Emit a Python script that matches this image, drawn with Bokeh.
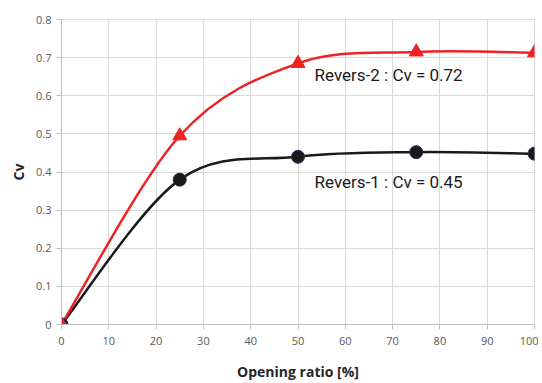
from bokeh.plotting import figure
from bokeh.embed import file_html
from bokeh.resources import INLINE
from bokeh.core.properties import value
from bokeh.models import FixedTicker

# ---- data ----
opening = [0, 25, 50, 75, 100]
revers1 = [0.0, 0.38, 0.44, 0.452, 0.448]
revers2 = [0.0, 0.495, 0.685, 0.715, 0.713]
x_ticks = [0, 10, 20, 30, 40, 50, 60, 70, 80, 90, 100]
y_ticks = [0, 0.1, 0.2, 0.3, 0.4, 0.5, 0.6, 0.7, 0.8]
label1 = "Revers-1 : Cv = 0.45"
label2 = "Revers-2 : Cv = 0.72"

p = figure(width=538, height=383, output_backend="svg", toolbar_location=None,
           title=None, x_range=(0, 100), y_range=(0, 0.8),
           min_border_left=61, min_border_right=4, min_border_top=19, min_border_bottom=40)
p.outline_line_color = "#d9d9d9"
p.background_fill_color = "white"

for ax in (p.xaxis[0], p.yaxis[0]):
    ax.axis_line_color = "#bfbfbf"
    ax.major_tick_line_color = "#bfbfbf"
    ax.major_tick_out = 5
    ax.major_tick_in = 0
    ax.minor_tick_line_color = None
    ax.major_label_text_font = "Open Sans"
    ax.major_label_text_font_size = "11px"
    ax.major_label_text_color = "#595959"
    ax.axis_label_text_font = "Open Sans"
    ax.axis_label_text_font_style = "bold"
    ax.axis_label_text_font_size = "14px"
    ax.axis_label_text_color = "#262626"

p.xaxis.ticker = FixedTicker(ticks=x_ticks)
p.yaxis.ticker = FixedTicker(ticks=y_ticks)
p.yaxis.major_label_overrides = {0: "0"}
p.xaxis.axis_label = "Opening ratio [%]"
p.yaxis.axis_label = "Cv"
p.xaxis.axis_label_standoff = 14
p.xaxis.major_label_standoff = 7
p.yaxis.axis_label_standoff = 5
p.xgrid.grid_line_color = "#d9d9d9"
p.ygrid.grid_line_color = "#d9d9d9"


def smooth(xs, ys):
    x0, y0, x1, y1, cx0, cy0, cx1, cy1 = [], [], [], [], [], [], [], []
    n = len(xs)
    for i in range(n - 1):
        pa = (xs[max(i - 1, 0)], ys[max(i - 1, 0)])
        pb = (xs[i], ys[i])
        pc = (xs[i + 1], ys[i + 1])
        pd = (xs[min(i + 2, n - 1)], ys[min(i + 2, n - 1)])
        x0.append(pb[0]); y0.append(pb[1])
        x1.append(pc[0]); y1.append(pc[1])
        cx0.append(pb[0] + (pc[0] - pa[0]) / 6); cy0.append(pb[1] + (pc[1] - pa[1]) / 6)
        cx1.append(pc[0] - (pd[0] - pb[0]) / 6); cy1.append(pc[1] - (pd[1] - pb[1]) / 6)
    return dict(x0=x0, y0=y0, x1=x1, y1=y1, cx0=cx0, cy0=cy0, cx1=cx1, cy1=cy1)


s1 = smooth(opening, revers1)
s2 = smooth(opening, revers2)
p.bezier(x0=s1["x0"], y0=s1["y0"], x1=s1["x1"], y1=s1["y1"],
         cx0=s1["cx0"], cy0=s1["cy0"], cx1=s1["cx1"], cy1=s1["cy1"],
         line_color="#1a1a1a", line_width=2.5)
p.bezier(x0=s2["x0"], y0=s2["y0"], x1=s2["x1"], y1=s2["y1"],
         cx0=s2["cx0"], cy0=s2["cy0"], cx1=s2["cx1"], cy1=s2["cy1"],
         line_color="#ee2222", line_width=2.5)

p.scatter(opening, revers1, marker="circle", size=13, fill_color="#1a1a1a",
          line_color="#1f3050", line_width=1)
p.scatter(opening, revers2, marker="triangle", size=14, fill_color="#ee2222",
          line_color="#ee2222")

p.text(x=[53.5], y=[0.655], text=[label2], text_font=value("Roboto"),
       text_font_size="17px", text_baseline="middle", text_align="left", text_color="#1a1a1a")
p.text(x=[53.5], y=[0.374], text=[label1], text_font=value("Roboto"),
       text_font_size="17px", text_baseline="middle", text_align="left", text_color="#1a1a1a")

open("out.html", "w").write(file_html(p, INLINE))
